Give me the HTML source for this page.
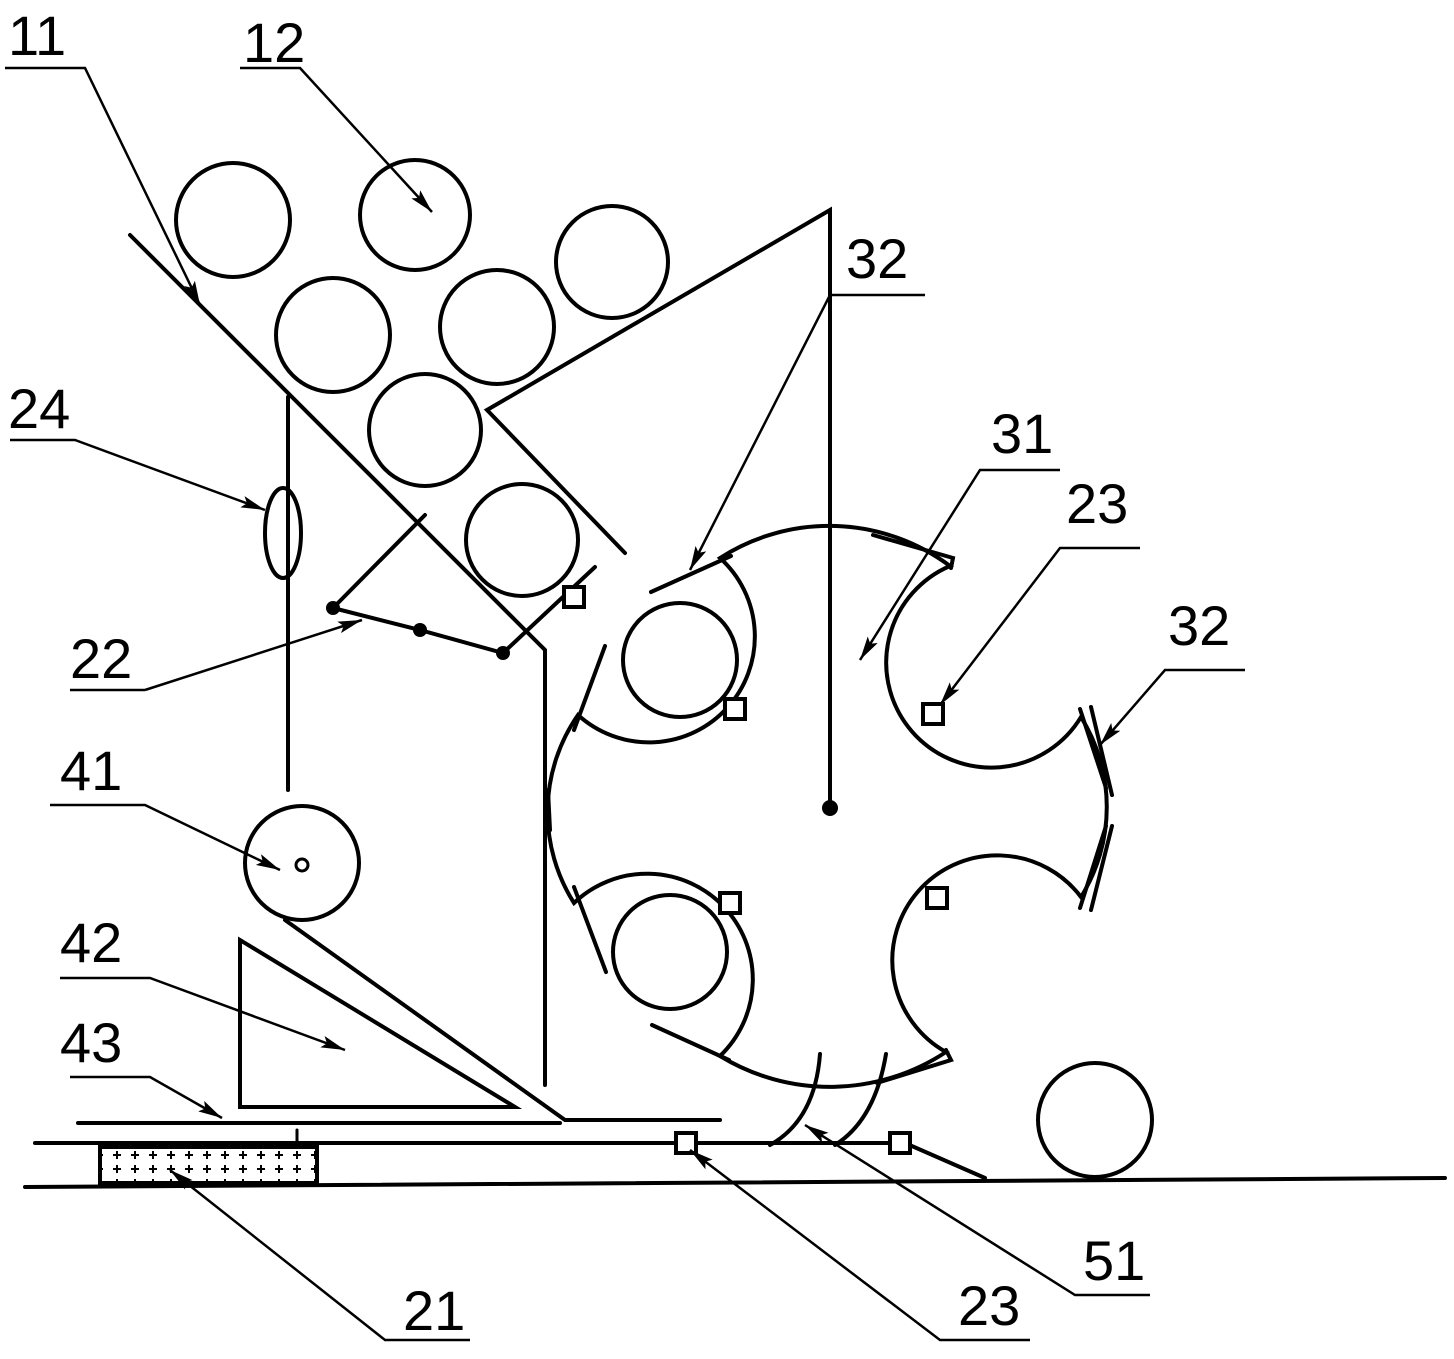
<!DOCTYPE html>
<html><head><meta charset="utf-8"><style>html,body{margin:0;padding:0;background:#fff}svg{display:block}</style></head>
<body>
<svg width="1454" height="1359" viewBox="0 0 1454 1359" xmlns="http://www.w3.org/2000/svg">
<defs>
<marker id="arl" viewBox="0 0 20 10" refX="20" refY="5" markerWidth="24" markerHeight="12" markerUnits="userSpaceOnUse" orient="auto"><path d="M0,0 L20,5 L0,10 L4,5 Z" fill="#000"/></marker>
<pattern id="pl" width="18" height="14" patternUnits="userSpaceOnUse"><path d="M9,3 v8 M5,7 h8" stroke="#000" stroke-width="2"/></pattern></defs>
<g fill="none" stroke="#000" stroke-width="4" stroke-linecap="round">
<circle cx="233" cy="220" r="57"/><circle cx="415" cy="215" r="55"/><circle cx="612" cy="262" r="56"/>
<circle cx="333" cy="335" r="57"/><circle cx="497" cy="327" r="57"/><circle cx="425" cy="430" r="56"/>
<circle cx="522" cy="540" r="56"/><circle cx="680" cy="660" r="57"/><circle cx="670" cy="952" r="57"/>
<circle cx="1095" cy="1120" r="57"/>
<path d="M130,235 L545,650 L545,1085"/>
<path d="M625,553 L487,410 L830,210 L830,808"/>
<path d="M720,558 A202,202 0 0,1 950,566 A105,105 0 1,0 1081,717 A170,170 0 0,1 1081,897 A105,105 0 1,0 946,1052 A211,211 0 0,1 720,1056 A105,105 0 1,0 574,903 A170,170 0 0,1 578,715 A103,103 0 1,0 720,558 Z"/>
<path d="M651,592 L731,556 M873,535 L953,558 L951,568 M605,646 L574,730 M574,887 L606,972 M1091,707 L1112,795 M1080,709 L1106,788 M1112,826 L1091,910 M1080,908 L1106,826 M652,1025 L729,1060 M877,1083 L951,1060 L946,1050 M548,790 L550,830"/>
<path d="M820,1054 Q815,1120 770,1145 M886,1054 Q875,1120 835,1145"/>
<path d="M425,515 L333,608 L420,630 L503,653 L595,567"/>
<path d="M288,397 L288,790"/>
<ellipse cx="283" cy="533" rx="18" ry="45"/>
<circle cx="302" cy="863" r="57"/><circle cx="302" cy="865" r="6" stroke-width="3"/>
<path d="M285,920 L565,1120 L720,1120"/>
<path d="M78,1123 L560,1123"/>
<path d="M240,940 L240,1107 L515,1107 Z"/>
<path d="M35,1143 L905,1143 L985,1178"/>
<path d="M25,1187 L1445,1178"/>
<path d="M297,1130 L297,1143" stroke-width="3"/>
</g>
<rect x="100" y="1147" width="217" height="36" fill="url(#pl)" stroke="#000" stroke-width="4"/>
<g fill="#000"><circle cx="333" cy="608" r="7"/><circle cx="420" cy="630" r="7"/><circle cx="503" cy="653" r="7"/><circle cx="830" cy="808" r="8"/></g>
<g fill="#fff" stroke="#000" stroke-width="4">
<rect x="564" y="587" width="20" height="20"/><rect x="725" y="699" width="20" height="20"/><rect x="923" y="704" width="20" height="20"/>
<rect x="720" y="893" width="20" height="20"/><rect x="927" y="888" width="20" height="20"/>
<rect x="676" y="1133" width="20" height="20"/><rect x="890" y="1133" width="20" height="20"/>
</g>
<g fill="none" stroke="#000" stroke-width="2.5">
<path d="M5,68 L85,68 L200,305" marker-end="url(#arl)"/>
<path d="M240,68 L300,68 L432,212" marker-end="url(#arl)"/>
<path d="M10,440 L75,440 L265,510" marker-end="url(#arl)"/>
<path d="M145,690 L70,690 M145,690 L362,620" marker-end="url(#arl)"/>
<path d="M50,805 L145,805 L280,870" marker-end="url(#arl)"/>
<path d="M60,978 L150,978 L345,1050" marker-end="url(#arl)"/>
<path d="M70,1077 L150,1077 L222,1118" marker-end="url(#arl)"/>
<path d="M470,1340 L385,1340 L170,1170" marker-end="url(#arl)"/>
<path d="M1030,1340 L940,1340 L690,1150" marker-end="url(#arl)"/>
<path d="M1150,1295 L1075,1295 L805,1125" marker-end="url(#arl)"/>
<path d="M925,295 L830,295 L690,570" marker-end="url(#arl)"/>
<path d="M1060,470 L980,470 L860,660" marker-end="url(#arl)"/>
<path d="M1140,548 L1060,548 L940,705" marker-end="url(#arl)"/>
<path d="M1245,670 L1165,670 L1100,745" marker-end="url(#arl)"/>
</g>
<g font-family="Liberation Sans, sans-serif" font-size="56" fill="#000">
<text x="8" y="55">11</text><text x="243" y="62">12</text><text x="8" y="428">24</text>
<text x="70" y="678">22</text><text x="60" y="790">41</text><text x="60" y="962">42</text>
<text x="60" y="1062">43</text><text x="403" y="1330">21</text><text x="958" y="1325">23</text>
<text x="1083" y="1280">51</text><text x="846" y="278">32</text><text x="991" y="453">31</text>
<text x="1066" y="523">23</text><text x="1168" y="645">32</text>
</g>
</svg>
</body></html>
